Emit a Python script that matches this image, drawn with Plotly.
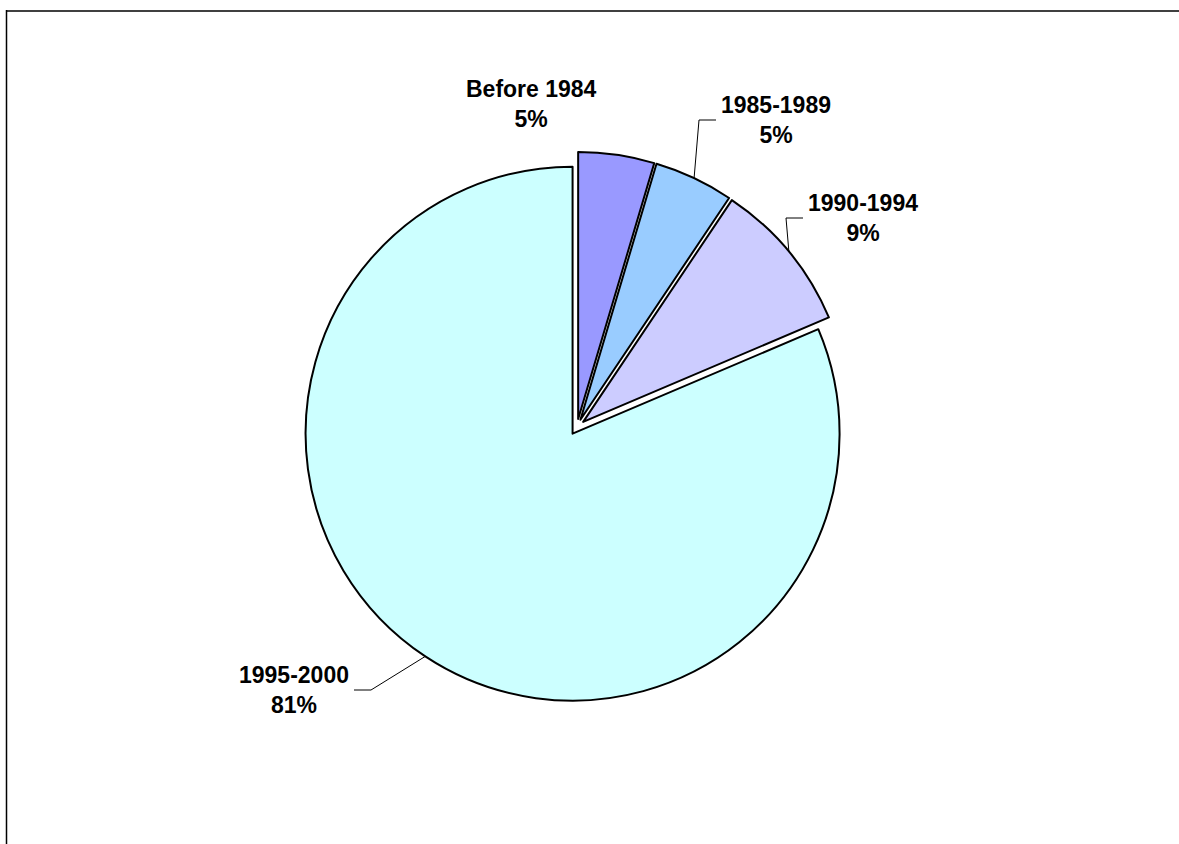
import math
import plotly.graph_objects as go

# Share of items by period
periods = ["Before 1984", "1985-1989", "1990-1994", "1995-2000"]
shares = [4.6, 4.8, 9.2, 81.4]
colors = ["#9999FF", "#99CCFF", "#CCCCFF", "#CCFFFF"]

W, H = 1179, 844
PULL = 0.03
CX, CY = 577, 427          # pie centre, pixels from top-left
R = 267                    # pie radius, pixels
BOX = 2 * R * (1 + PULL)   # plotly shrinks the radius to fit the pull
FONT_SIZE = 23

fig = go.Figure(
    go.Pie(
        labels=periods,
        values=shares,
        sort=False,
        direction="clockwise",
        rotation=0,
        pull=[PULL] * len(shares),
        marker=dict(colors=colors, line=dict(color="#000000", width=2)),
        textinfo="none",
        hoverinfo="label+percent",
        showlegend=False,
        domain=dict(
            x=[(CX - BOX / 2) / W, (CX + BOX / 2) / W],
            y=[(H - CY - BOX / 2) / H, (H - CY + BOX / 2) / H],
        ),
    )
)


def px(x):
    return x / W


def py(y):
    return 1 - y / H


# label block centres and which side the leader line attaches to
label_pos = {
    "Before 1984": (531, 104, None),
    "1985-1989": (776, 120, "left"),
    "1990-1994": (863, 218, "left"),
    "1995-2000": (294, 690, "right"),
}
label_half_w = {"Before 1984": 67, "1985-1989": 56, "1990-1994": 56, "1995-2000": 56}

total = sum(shares)
shapes = []
annotations = []
start = 0.0
for name, v in zip(periods, shares):
    span = v / total * 360
    mid = start + span / 2
    start += span
    lx, ly, side = label_pos[name]
    pct = round(v / total * 100)
    annotations.append(
        dict(
            x=px(lx), y=py(ly), xref="paper", yref="paper",
            text=f"<b>{name}</b><br><b>{pct}%</b>",
            showarrow=False, align="center",
            xanchor="center", yanchor="middle",
            font=dict(family="Liberation Sans, Arial", size=FONT_SIZE, color="#000000"),
        )
    )
    if side is None:
        continue
    # point on the exploded slice's arc at its mid-angle
    a = math.radians(mid)
    ox = CX + PULL * R * math.sin(a)
    oy = CY - PULL * R * math.cos(a)
    ex = ox + R * math.sin(a)
    ey = oy - R * math.cos(a)
    if side == "left":
        x_text = lx - label_half_w[name] - 4
        x_elbow = x_text - 17
    else:
        x_text = lx + label_half_w[name] + 4
        x_elbow = x_text + 17
    shapes.append(
        dict(
            type="path", xref="paper", yref="paper",
            path=f"M {px(ex)} {py(ey)} L {px(x_elbow)} {py(ly)} L {px(x_text)} {py(ly)}",
            line=dict(color="#000000", width=1),
        )
    )

# chart-area frame (top and left edges visible)
shapes.append(dict(type="line", xref="paper", yref="paper",
                   x0=px(6), y0=py(11), x1=1.05, y1=py(11),
                   line=dict(color="#404040", width=2)))
shapes.append(dict(type="line", xref="paper", yref="paper",
                   x0=px(6.5), y0=py(10), x1=px(6.5), y1=-0.05,
                   line=dict(color="#000000", width=1.5)))

fig.update_layout(
    width=W, height=H,
    margin=dict(l=0, r=0, t=0, b=0),
    paper_bgcolor="#FFFFFF",
    plot_bgcolor="#FFFFFF",
    shapes=shapes,
    annotations=annotations,
)

fig.write_html("out.html", config={"displayModeBar": False})
